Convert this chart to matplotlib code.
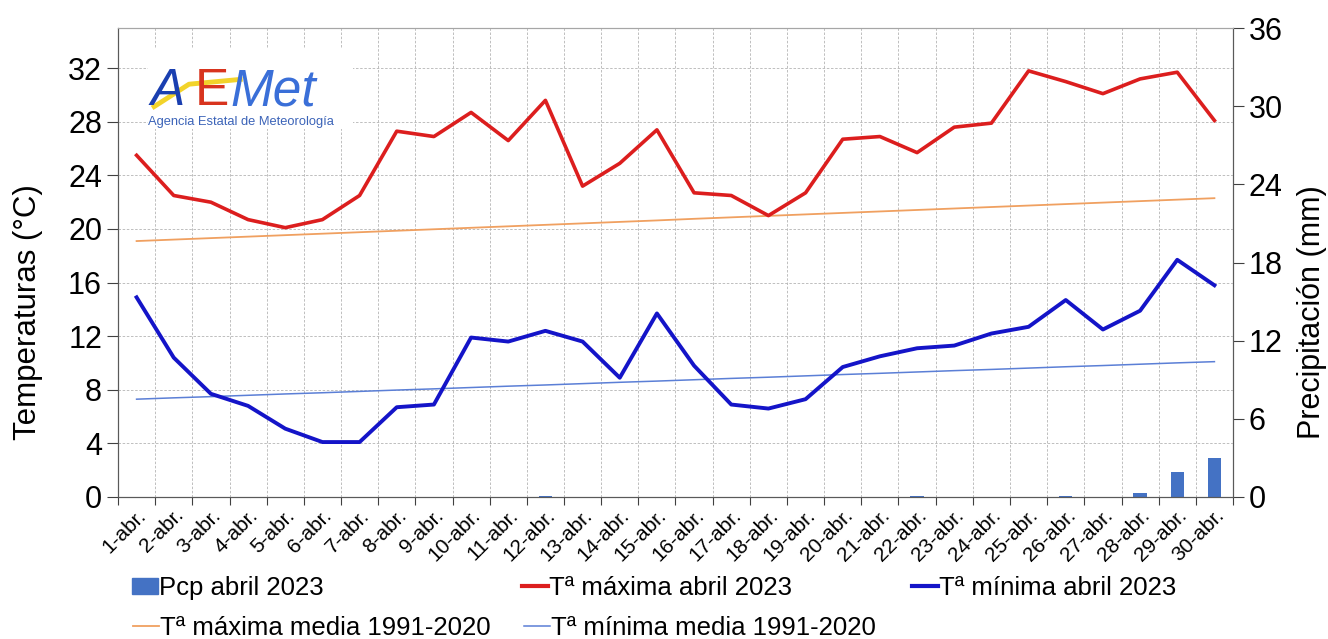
import numpy as np
import matplotlib.pyplot as plt
from matplotlib.patches import Patch
from matplotlib.lines import Line2D

plt.rcParams['font.family'] = ['Liberation Sans', 'DejaVu Sans']

dias = [f"{d}-abr." for d in range(1, 31)]

tmax = [25.5, 22.5, 22.0, 20.7, 20.1, 20.7, 22.5, 27.3, 26.9, 28.7,
        26.6, 29.6, 23.2, 24.9, 27.4, 22.7, 22.5, 21.0, 22.7, 26.7,
        26.9, 25.7, 27.6, 27.9, 31.8, 31.0, 30.1, 31.2, 31.7, 28.1]
tmin = [14.9, 10.4, 7.7, 6.8, 5.1, 4.1, 4.1, 6.7, 6.9, 11.9,
        11.6, 12.4, 11.6, 8.9, 13.7, 9.8, 6.9, 6.6, 7.3, 9.7,
        10.5, 11.1, 11.3, 12.2, 12.7, 14.7, 12.5, 13.9, 17.7, 15.8]
tmax_media = [19.10, 19.21, 19.32, 19.43, 19.54, 19.65, 19.76, 19.87, 19.98, 20.09,
              20.20, 20.31, 20.42, 20.53, 20.64, 20.76, 20.87, 20.98, 21.09, 21.20,
              21.31, 21.42, 21.53, 21.64, 21.75, 21.86, 21.97, 22.08, 22.19, 22.30]
tmin_media = [7.30, 7.40, 7.49, 7.59, 7.69, 7.78, 7.88, 7.98, 8.07, 8.17,
              8.27, 8.36, 8.46, 8.56, 8.65, 8.75, 8.85, 8.94, 9.04, 9.14,
              9.23, 9.33, 9.43, 9.52, 9.62, 9.72, 9.81, 9.91, 10.01, 10.10]
pcp = [0, 0, 0, 0, 0, 0, 0, 0, 0, 0,
       0, 0.1, 0, 0, 0, 0, 0, 0, 0, 0,
       0, 0.1, 0, 0, 0, 0.1, 0, 0.3, 1.9, 3.0]

x = np.arange(1, 31)

fig = plt.figure(figsize=(13.28, 6.39), dpi=100)
ax = fig.add_axes([118/1328, 1-497/639, (1233-118)/1328, (497-28)/639])
ax2 = ax.twinx()

# ax2 (barras) detras con el fondo, ax (lineas) delante
ax2.set_zorder(1)
ax.set_zorder(2)
ax.patch.set_visible(False)
ax2.set_facecolor('#FBE5D6')

ax2.bar(x, pcp, width=0.36, color='#4472C4')
ax2.set_ylim(0, 36)
ax2.set_yticks(range(0, 37, 6))
ax2.set_ylabel('Precipitación (mm)', fontsize=22, va='center')
ax2.yaxis.set_label_coords(1.0705, 0.395)

ax.plot(x, tmax_media, color='#F0A060', lw=1.3, zorder=3)
ax.plot(x, tmin_media, color='#5B7FD6', lw=1.1, zorder=3)
ax.plot(x, tmax, color='#DC1E1E', lw=2.6, zorder=4)
ax.plot(x, tmin, color='#1414C8', lw=2.8, zorder=4)

ax.set_xlim(0.5, 30.5)
ax.set_ylim(0, 35)
ax.set_yticks(range(0, 33, 4))
ax.set_ylabel('Temperaturas (°C)', fontsize=22.5, va='center')
ax.yaxis.set_label_coords(-0.0805, 0.395)

ax.set_xticks(np.arange(0.5, 31, 1))
ax.set_xticklabels([])
ax.set_xticks(x, minor=True)
ax.set_xticklabels(dias, minor=True, rotation=45, ha='right',
                   rotation_mode='anchor', fontsize=15)
ax.tick_params(axis='x', which='minor', length=0, pad=6)
ax.tick_params(axis='x', which='major', length=6, direction='out', color='#404040')
ax.tick_params(axis='y', labelsize=22, length=8, color='#404040')
ax2.tick_params(axis='y', labelsize=22, length=8, color='#404040')

ax.grid(True, which='major', color='#B4B4B4', ls=(0, (3, 2)), lw=0.6)
for a in (ax, ax2):
    for s in a.spines.values():
        s.set_color('#595959')
    a.spines['top'].set_color('#A6A6A6')

# logo
lax = fig.add_axes([148/1328, 1-129/639, 205/1328, 80/639], zorder=10)
lax.set_facecolor('white')
lax.set_xticks([])
lax.set_yticks([])
for s in lax.spines.values():
    s.set_visible(False)
lax.set_xlim(0, 1)
lax.set_ylim(0, 1)
lax.plot([0.03, 0.2, 0.45], [0.28, 0.56, 0.62], color='#F2D32A', lw=3.5, zorder=1)
lax.text(0.01, 0.30, 'A', color='#1A3FB0', fontsize=37, style='italic', zorder=2)
lax.text(0.23, 0.30, 'E', color='#D8341E', fontsize=37, zorder=2)
lax.text(0.40, 0.30, 'Met', color='#3A6FD8', fontsize=37, style='italic', zorder=2)
lax.text(0.0, 0.05, 'Agencia Estatal de Meteorología', color='#3B63B8', fontsize=9.3)

# leyenda
items = [
    (Patch(color='#4472C4'), 'Pcp abril 2023', 132, 588),
    (Line2D([], [], color='#DC1E1E', lw=3), 'Tª máxima abril 2023', 522, 588),
    (Line2D([], [], color='#1414C8', lw=3), 'Tª mínima abril 2023', 912, 588),
    (Line2D([], [], color='#F0A060', lw=1.3), 'Tª máxima media 1991-2020', 133, 628),
    (Line2D([], [], color='#5B7FD6', lw=1.1), 'Tª mínima media 1991-2020', 524, 628),
]
for h, lab, px, py in items:
    fig.legend(handles=[h], labels=[lab], loc='center left',
               bbox_to_anchor=(px/1328, 1-py/639), frameon=False,
               fontsize=18.5, handlelength=1.0, handleheight=0.6,
               handletextpad=0.05, borderpad=0, borderaxespad=0)

fig.savefig('out.png', dpi=100)
